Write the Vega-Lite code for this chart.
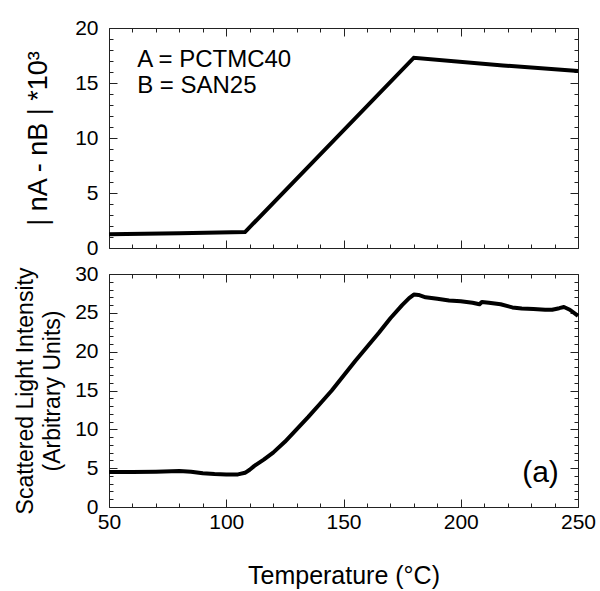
{
  "$schema": "https://vega.github.io/schema/vega-lite/v6.json",
  "padding": {"left": 14, "top": 16, "right": 5, "bottom": 0},
  "background": "white",
  "spacing": 26,
  "bounds": "flush",
  "datasets": {
    "top": [
      {"T": 50, "v": 1.25}, {"T": 80, "v": 1.35}, {"T": 108, "v": 1.45},
      {"T": 180, "v": 17.3}, {"T": 218, "v": 16.6}, {"T": 250, "v": 16.1}
    ],
    "bottom": [
      {"T": 50, "v": 4.5}, {"T": 60, "v": 4.5}, {"T": 70, "v": 4.55}, {"T": 80, "v": 4.65},
      {"T": 85, "v": 4.55}, {"T": 90, "v": 4.35}, {"T": 95, "v": 4.25}, {"T": 100, "v": 4.2},
      {"T": 105, "v": 4.2}, {"T": 108, "v": 4.4}, {"T": 110, "v": 4.8}, {"T": 112, "v": 5.3},
      {"T": 116, "v": 6.1}, {"T": 120, "v": 7.0}, {"T": 125, "v": 8.4}, {"T": 130, "v": 10.0},
      {"T": 135, "v": 11.6}, {"T": 140, "v": 13.3}, {"T": 145, "v": 15.0}, {"T": 150, "v": 16.9},
      {"T": 155, "v": 18.8}, {"T": 160, "v": 20.6}, {"T": 165, "v": 22.4}, {"T": 170, "v": 24.3},
      {"T": 175, "v": 26.0}, {"T": 178, "v": 26.9}, {"T": 180, "v": 27.35}, {"T": 182, "v": 27.3},
      {"T": 185, "v": 27.0}, {"T": 190, "v": 26.8}, {"T": 195, "v": 26.6}, {"T": 200, "v": 26.5},
      {"T": 205, "v": 26.3}, {"T": 208, "v": 26.1}, {"T": 209, "v": 26.4}, {"T": 212, "v": 26.3},
      {"T": 217, "v": 26.1}, {"T": 222, "v": 25.7}, {"T": 226, "v": 25.55}, {"T": 231, "v": 25.5},
      {"T": 236, "v": 25.4}, {"T": 239, "v": 25.4}, {"T": 242, "v": 25.6}, {"T": 244, "v": 25.75},
      {"T": 246.5, "v": 25.4}, {"T": 250, "v": 24.6}
    ],
    "notesTop": [
      {"T": 62, "v": 16.45, "label": "A = PCTMC40"},
      {"T": 62, "v": 14.1, "label": "B = SAN25"}
    ],
    "notesBottom": [
      {"T": 234, "v": 3.2, "label": "(a)"}
    ]
  },
  "config": {
    "view": {"stroke": "#222", "strokeWidth": 1},
    "font": "Liberation Sans",
    "axis": {
      "domain": false, "grid": false, "ticks": true, "labelFlush": false,
      "tickColor": "#222", "tickWidth": 1,
      "labelFont": "Liberation Sans", "labelFontSize": 21, "labelColor": "black",
      "titleFont": "Liberation Sans", "titleFontWeight": "normal", "titleColor": "black"
    }
  },
  "vconcat": [
    {
      "width": 469, "height": 220,
      "resolve": {"axis": {"x": "independent", "y": "independent"}},
      "layer": [
        {
          "data": {"name": "top"},
          "mark": {"type": "line", "color": "black", "strokeWidth": 4},
          "encoding": {
            "x": {"field": "T", "type": "quantitative",
                  "scale": {"domain": [50, 250], "nice": false, "zero": false},
                  "axis": {"orient": "bottom", "values": [50, 100, 150, 200, 250], "ticks": true, "labels": false, "tickSize": -8, "title": null}},
            "y": {"field": "v", "type": "quantitative",
                  "scale": {"domain": [0, 20], "nice": false, "zero": false},
                  "axis": {"orient": "left", "values": [0, 5, 10, 15, 20], "ticks": true, "tickSize": -8, "labelPadding": 19,
                           "title": "| nA - nB | *10³", "titleFontSize": 27, "titlePadding": 22}}
          }
        },
        {
          "data": {"name": "notesTop"},
          "mark": {"type": "text", "align": "left", "baseline": "alphabetic", "fontSize": 24, "color": "black", "font": "Liberation Sans"},
          "encoding": {
            "x": {"field": "T", "type": "quantitative",
                  "axis": {"orient": "bottom", "values": [60, 70, 80, 90, 110, 120, 130, 140, 160, 170, 180, 190, 210, 220, 230, 240], "ticks": true, "labels": false, "tickSize": -4, "title": null}},
            "y": {"field": "v", "type": "quantitative",
                  "axis": {"orient": "left", "values": [1, 2, 3, 4, 6, 7, 8, 9, 11, 12, 13, 14, 16, 17, 18, 19], "ticks": true, "labels": false, "tickSize": -4, "title": null}},
            "text": {"field": "label"}
          }
        },
        {
          "data": {"name": "top"},
          "mark": {"type": "line", "opacity": 0},
          "encoding": {
            "x": {"field": "T", "type": "quantitative",
                  "axis": {"orient": "top", "values": [50, 100, 150, 200, 250], "ticks": true, "labels": false, "tickSize": -8, "title": null}},
            "y": {"field": "v", "type": "quantitative",
                  "axis": {"orient": "right", "values": [0, 5, 10, 15, 20], "ticks": true, "labels": false, "tickSize": -8, "title": null}}
          }
        },
        {
          "data": {"name": "top"},
          "mark": {"type": "line", "opacity": 0},
          "encoding": {
            "x": {"field": "T", "type": "quantitative",
                  "axis": {"orient": "top", "values": [60, 70, 80, 90, 110, 120, 130, 140, 160, 170, 180, 190, 210, 220, 230, 240], "ticks": true, "labels": false, "tickSize": -4, "title": null}},
            "y": {"field": "v", "type": "quantitative",
                  "axis": {"orient": "right", "values": [1, 2, 3, 4, 6, 7, 8, 9, 11, 12, 13, 14, 16, 17, 18, 19], "ticks": true, "labels": false, "tickSize": -4, "title": null}}
          }
        }
      ]
    },
    {
      "width": 469, "height": 233,
      "resolve": {"axis": {"x": "independent", "y": "independent"}},
      "layer": [
        {
          "data": {"name": "bottom"},
          "mark": {"type": "line", "color": "black", "strokeWidth": 4, "strokeJoin": "round"},
          "encoding": {
            "x": {"field": "T", "type": "quantitative",
                  "scale": {"domain": [50, 250], "nice": false, "zero": false},
                  "axis": {"orient": "bottom", "values": [50, 100, 150, 200, 250], "ticks": true, "tickSize": -8, "labelPadding": 12,
                           "title": "Temperature (°C)", "titleFontSize": 25, "titlePadding": 31}},
            "y": {"field": "v", "type": "quantitative",
                  "scale": {"domain": [0, 30], "nice": false, "zero": false},
                  "axis": {"orient": "left", "values": [0, 5, 10, 15, 20, 25, 30], "ticks": true, "tickSize": -8, "labelPadding": 19,
                           "title": ["Scattered Light Intensity", "(Arbitrary Units)"], "titleFontSize": 23, "titleLineHeight": 27, "titlePadding": 10}}
          }
        },
        {
          "data": {"name": "notesBottom"},
          "mark": {"type": "text", "align": "center", "baseline": "alphabetic", "fontSize": 30, "color": "black", "font": "Liberation Sans"},
          "encoding": {
            "x": {"field": "T", "type": "quantitative",
                  "axis": {"orient": "bottom", "values": [60, 70, 80, 90, 110, 120, 130, 140, 160, 170, 180, 190, 210, 220, 230, 240], "ticks": true, "labels": false, "tickSize": -4, "title": null}},
            "y": {"field": "v", "type": "quantitative",
                  "axis": {"orient": "left", "values": [1, 2, 3, 4, 6, 7, 8, 9, 11, 12, 13, 14, 16, 17, 18, 19, 21, 22, 23, 24, 26, 27, 28, 29], "ticks": true, "labels": false, "tickSize": -4, "title": null}},
            "text": {"field": "label"}
          }
        },
        {
          "data": {"name": "bottom"},
          "mark": {"type": "line", "opacity": 0},
          "encoding": {
            "x": {"field": "T", "type": "quantitative",
                  "axis": {"orient": "top", "values": [50, 100, 150, 200, 250], "ticks": true, "labels": false, "tickSize": -8, "title": null}},
            "y": {"field": "v", "type": "quantitative",
                  "axis": {"orient": "right", "values": [0, 5, 10, 15, 20, 25, 30], "ticks": true, "labels": false, "tickSize": -8, "title": null}}
          }
        },
        {
          "data": {"name": "bottom"},
          "mark": {"type": "line", "opacity": 0},
          "encoding": {
            "x": {"field": "T", "type": "quantitative",
                  "axis": {"orient": "top", "values": [60, 70, 80, 90, 110, 120, 130, 140, 160, 170, 180, 190, 210, 220, 230, 240], "ticks": true, "labels": false, "tickSize": -4, "title": null}},
            "y": {"field": "v", "type": "quantitative",
                  "axis": {"orient": "right", "values": [1, 2, 3, 4, 6, 7, 8, 9, 11, 12, 13, 14, 16, 17, 18, 19, 21, 22, 23, 24, 26, 27, 28, 29], "ticks": true, "labels": false, "tickSize": -4, "title": null}}
          }
        }
      ]
    }
  ]
}
